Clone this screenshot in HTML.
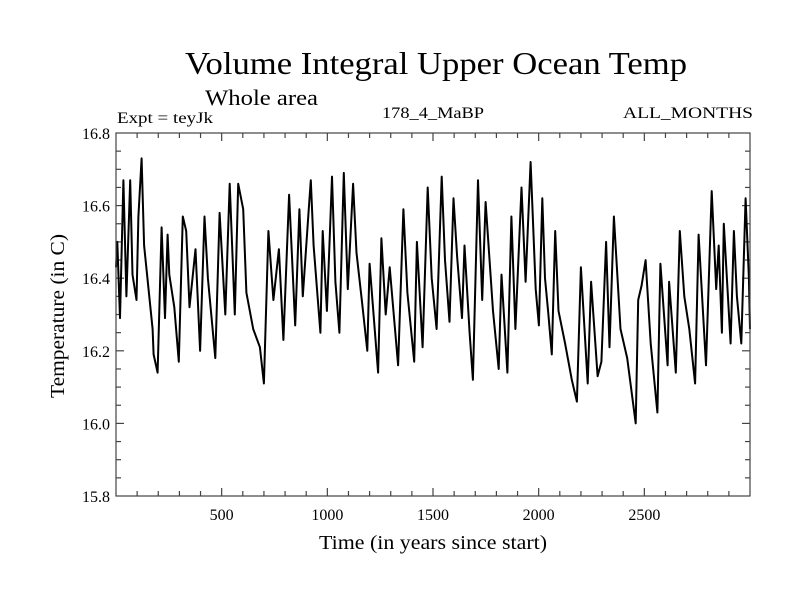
<!DOCTYPE html>
<html><head><meta charset="utf-8"><style>
html,body{margin:0;padding:0;background:#fff;}
svg{display:block;font-family:"Liberation Serif",serif;}
</style></head><body>
<svg id="chart" width="800" height="600">
<text x="436" y="74" font-size="32" text-anchor="middle" textLength="502" lengthAdjust="spacingAndGlyphs">Volume Integral Upper Ocean Temp</text>
<text x="205" y="105" font-size="22" textLength="113" lengthAdjust="spacingAndGlyphs">Whole area</text>
<text x="117" y="123" font-size="16" textLength="96" lengthAdjust="spacingAndGlyphs">Expt = teyJk</text>
<text x="433" y="118" font-size="16" text-anchor="middle" textLength="102" lengthAdjust="spacingAndGlyphs">178_4_MaBP</text>
<text x="753" y="118" font-size="16" text-anchor="end" textLength="130" lengthAdjust="spacingAndGlyphs">ALL_MONTHS</text>
<text x="433" y="549" font-size="20" text-anchor="middle" textLength="228" lengthAdjust="spacingAndGlyphs">Time (in years since start)</text>
<text x="0" y="0" font-size="20" text-anchor="middle" transform="translate(64,316) rotate(-90)" textLength="164" lengthAdjust="spacingAndGlyphs">Temperature (in C)</text>
<g id="axes"></g>
<path id="series" fill="none" stroke="#000" stroke-width="2" stroke-linejoin="round"></path>
<rect x="116" y="133" width="634" height="363" fill="none" stroke="#444" stroke-width="1.2"></rect>
</svg>
<script>
const years = [0,6,19,35,49,67,78,97,106,121,133,173,178,197,216,232,244,252,276,297,316,332,348,376,398,419,435,470,490,517,538,562,578,602,617,649,681,700,721,745,771,792,819,848,868,884,911,922,935,967,978,998,1011,1022,1038,1057,1078,1097,1122,1138,1165,1189,1200,1240,1256,1276,1295,1335,1360,1379,1411,1424,1451,1475,1494,1517,1541,1557,1578,1597,1614,1637,1649,1673,1689,1713,1733,1749,1784,1811,1824,1852,1871,1890,1919,1938,1962,1986,2001,2017,2030,2046,2062,2078,2094,2125,2157,2181,2200,2232,2248,2279,2297,2319,2335,2356,2387,2419,2459,2471,2487,2506,2530,2562,2576,2610,2617,2649,2668,2689,2713,2740,2757,2792,2819,2840,2852,2867,2876,2908,2924,2938,2959,2979,2995,3000];
const temps = [16.43,16.50,16.29,16.67,16.35,16.67,16.41,16.34,16.57,16.73,16.49,16.26,16.19,16.14,16.54,16.29,16.52,16.41,16.32,16.17,16.57,16.53,16.32,16.48,16.20,16.57,16.40,16.18,16.58,16.30,16.66,16.30,16.66,16.59,16.36,16.26,16.21,16.11,16.53,16.34,16.48,16.23,16.63,16.27,16.59,16.35,16.58,16.67,16.49,16.25,16.53,16.31,16.51,16.68,16.39,16.25,16.69,16.37,16.66,16.47,16.33,16.20,16.44,16.14,16.51,16.30,16.43,16.16,16.59,16.36,16.17,16.50,16.21,16.65,16.40,16.26,16.68,16.45,16.28,16.62,16.46,16.29,16.49,16.25,16.12,16.67,16.34,16.61,16.31,16.15,16.41,16.14,16.57,16.26,16.65,16.39,16.72,16.37,16.27,16.62,16.40,16.30,16.19,16.53,16.31,16.22,16.12,16.06,16.43,16.11,16.39,16.13,16.17,16.50,16.21,16.57,16.26,16.18,16.00,16.34,16.38,16.45,16.22,16.03,16.44,16.16,16.39,16.14,16.53,16.35,16.26,16.11,16.52,16.16,16.64,16.37,16.49,16.25,16.55,16.22,16.53,16.35,16.22,16.62,16.40,16.26,16.38];
const xTickLabels = [500,1000,1500,2000,2500];
const yTickLabels = [15.8,16.0,16.2,16.4,16.6,16.8];
const X0=116, X1=750, Y0=496, Y1=133, XMIN=0, XMAX=3000, YMIN=15.8, YMAX=16.8;
function xs(v){return X0+(v-XMIN)/(XMAX-XMIN)*(X1-X0);}
function ys(v){return Y0-(v-YMIN)/(YMAX-YMIN)*(Y0-Y1);}
const NS="http://www.w3.org/2000/svg";
const ax=document.getElementById('axes');
function line(x1,y1,x2,y2,name){const l=document.createElementNS(NS,'line');l.setAttribute('x1',x1);l.setAttribute('y1',y1);l.setAttribute('x2',x2);l.setAttribute('y2',y2);l.setAttribute('stroke','#444');l.setAttribute('stroke-width','1.2');


ax.appendChild(l);}
for(let v=100;v<3000;v+=100){const x=xs(v);const len=(v%500===0)?8:5;line(x,Y0,x,Y0-len,'x-tick');line(x,Y1,x,Y1+len,'x-tick-top');}
for(let i=1;i<20;i++){const v=YMIN+i*0.05;const y=ys(v);const len=(i%4===0)?8:5;line(X0,y,X0+len,y,'y-tick');line(X1,y,X1-len,y,'y-tick-right');}
xTickLabels.forEach(v=>{const t=document.createElementNS(NS,'text');t.setAttribute('x',xs(v));t.setAttribute('y',Y0+24);t.setAttribute('font-size','16');t.setAttribute('text-anchor','middle');t.textContent=v;


ax.appendChild(t);});
yTickLabels.forEach(v=>{const t=document.createElementNS(NS,'text');t.setAttribute('x',X0-6);t.setAttribute('y',ys(v)+6);t.setAttribute('font-size','16');t.setAttribute('text-anchor','end');t.textContent=v.toFixed(1);


ax.appendChild(t);});
let d='';years.forEach((yr,i)=>{d+=(i?'L':'M')+xs(yr).toFixed(1)+' '+ys(temps[i]).toFixed(1)+' ';});
document.getElementById('series').setAttribute('d',d);
</script>
</body></html>
